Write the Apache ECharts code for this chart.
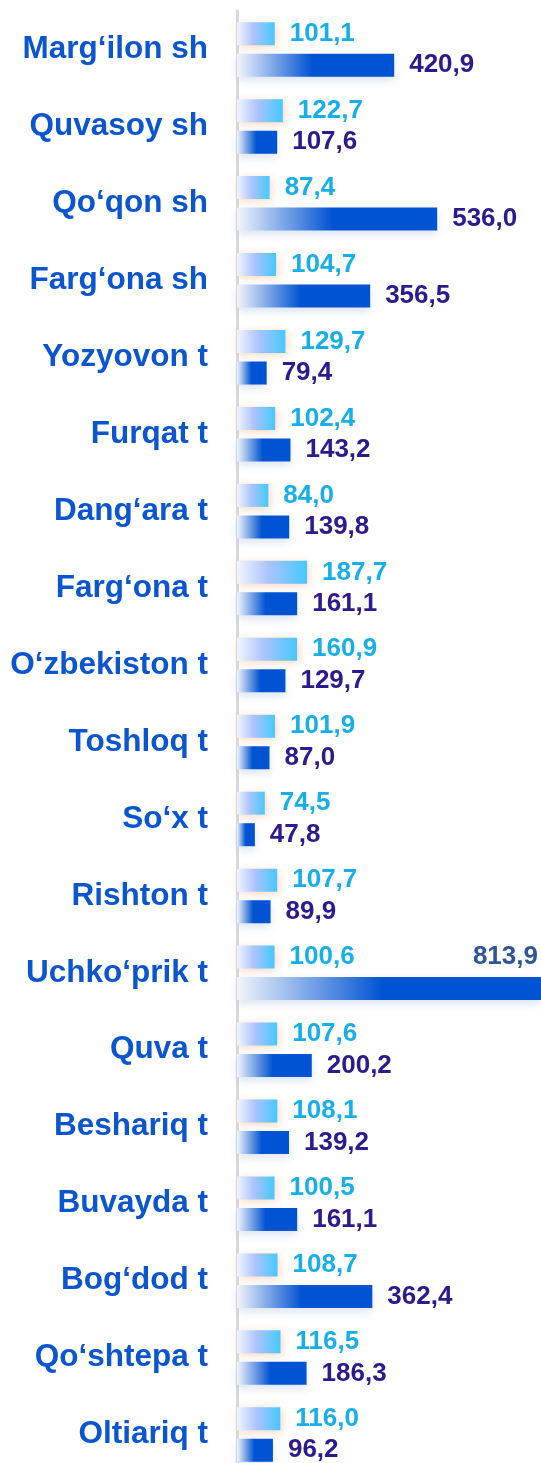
<!DOCTYPE html>
<html>
<head>
<meta charset="utf-8">
<title>Hududlar bo'yicha ko'rsatkichlar</title>
<script src="https://cdn.jsdelivr.net/npm/echarts@6/dist/echarts.min.js"></script>
<style>
  body { margin: 0; background: #fff; }
  #chart { width: 541px; height: 1463px; }
</style>
</head>
<body>
<div id="chart"></div>
<script>
// hududlar
var categories = ['Marg‘ilon sh', 'Quvasoy sh', 'Qo‘qon sh', 'Farg‘ona sh', 'Yozyovon t', 'Furqat t',
  'Dang‘ara t', 'Farg‘ona t', 'O‘zbekiston t', 'Toshloq t', 'So‘x t', 'Rishton t', 'Uchko‘prik t',
  'Quva t', 'Beshariq t', 'Buvayda t', 'Bog‘dod t', 'Qo‘shtepa t', 'Oltiariq t'];
// yuqori (och) ustun
var lightValues = [101.1, 122.7, 87.4, 104.7, 129.7, 102.4, 84.0, 187.7, 160.9, 101.9, 74.5,
  107.7, 100.6, 107.6, 108.1, 100.5, 108.7, 116.5, 116.0];
// pastki (to'q) ustun
var darkValues = [420.9, 107.6, 536.0, 356.5, 79.4, 143.2, 139.8, 161.1, 129.7, 87.0, 47.8,
  89.9, 813.9, 200.2, 139.2, 161.1, 362.4, 186.3, 96.2];

var font = 'Liberation Sans, Arial, sans-serif';
function fmt(p) { return p.value.toFixed(1).replace('.', ','); }

// eng uzun ustun yorlig'i ustun ustida o'ngda turadi
var darkData = darkValues.map(function (v) {
  if (v > 700) {
    return {
      value: v,
      label: { position: 'insideRight', distance: 3, offset: [0, -32], color: '#2f5597' }
    };
  }
  return v;
});

var chart = echarts.init(document.getElementById('chart'));
chart.setOption({
  animation: false,
  grid: { left: 237, right: 0, top: 11, height: 1462, containLabel: false, outerBoundsMode: 'none' },
  xAxis: { type: 'value', min: 0, max: 814, show: false },
  yAxis: {
    type: 'category',
    inverse: true,
    data: categories,
    axisTick: { show: false },
    axisLine: { lineStyle: { color: '#d9d9d9', width: 3 } },
    axisLabel: { margin: 29, color: '#0b56d0', fontSize: 31.5, fontWeight: 'bold', fontFamily: font }
  },
  series: [
    {
      type: 'bar',
      data: lightValues,
      barWidth: 23,
      barGap: '37%',
      itemStyle: {
        color: new echarts.graphic.LinearGradient(0, 0, 1, 0, [
          { offset: 0, color: '#f0f5ff' },
          { offset: 0.45, color: '#abc3ff' },
          { offset: 1, color: '#45c9ff' }
        ]),
        shadowColor: 'rgba(245,170,120,0.45)',
        shadowBlur: 8,
        shadowOffsetX: 2,
        shadowOffsetY: 2
      },
      label: {
        show: true, position: 'right', distance: 15, formatter: fmt,
        color: '#17afe9', fontSize: 26, fontWeight: 'bold', fontFamily: font
      }
    },
    {
      type: 'bar',
      data: darkData,
      barWidth: 23,
      itemStyle: {
        color: new echarts.graphic.LinearGradient(0, 0, 1, 0, [
          { offset: 0, color: '#f2f5fb' },
          { offset: 0.48, color: '#0053d2' },
          { offset: 1, color: '#0053d2' }
        ]),
        shadowColor: 'rgba(170,190,220,0.4)',
        shadowBlur: 8,
        shadowOffsetY: 4
      },
      label: {
        show: true, position: 'right', distance: 15, formatter: fmt,
        color: '#2c1a8e', fontSize: 26, fontWeight: 'bold', fontFamily: font
      }
    }
  ]
});
</script>
</body>
</html>
